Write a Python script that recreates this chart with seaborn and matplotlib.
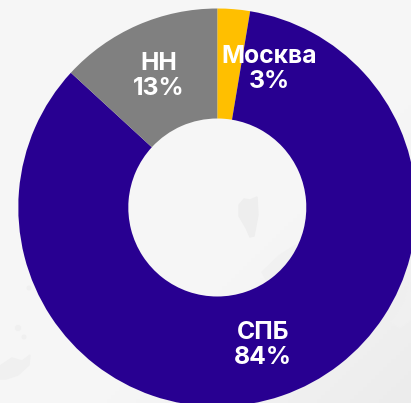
import numpy as np
import matplotlib
matplotlib.use("Agg")
import matplotlib.pyplot as plt
import seaborn as sns

cities = ["Москва", "СПБ", "НН"]
shares = [2.64, 84.2, 13.16]
share_labels = ["3%", "84%", "13%"]
colors = ["#FFBF00", "#280091", "#808080"]

W, H = 411, 403
BG = "#F6F6F6"
sns.set_theme(style="white", rc={"figure.facecolor": BG, "axes.facecolor": BG})
plt.rcParams["font.family"] = ["Inter", "DejaVu Sans"]

fig = plt.figure(figsize=(W / 100, H / 100), dpi=100)
ax = fig.add_axes([0, 0, 1, 1])

# faint map backdrop
yy, xx = np.mgrid[0:1:100j, 0:1:100j]
shade = np.clip((xx + yy - 1.25) / 0.75, 0, 1)
ax.imshow(shade, extent=[0, W, H, 0], cmap=sns.blend_palette([BG, "#ECECEC"], as_cmap=True),
          vmin=0, vmax=1, aspect="auto", zorder=0)
land = "#F0F0F0"
ax.fill([0, 12, 22, 30, 29, 18, 6, 0], [366, 358, 361, 355, 365, 375, 379, 379], color=land, zorder=1)
ax.fill([410, 405, 396, 390, 400, 411], [280, 300, 315, 322, 328, 320], color=land, zorder=1)
ax.fill([239, 244, 250, 257, 258, 254, 250, 246, 239], [205, 199, 200, 197, 215, 236, 237, 228, 216], color="#EEEEEE", zorder=1)
ax.fill([262, 280, 296, 299, 285, 268], [272, 255, 245, 250, 268, 283], color="#F1F1F1", zorder=1)
ax.add_patch(plt.Circle((18, 328), 2.5, color=land, zorder=1))
ax.add_patch(plt.Circle((24, 337), 1.8, color=land, zorder=1))
ax.add_patch(plt.Circle((29, 288), 1.8, color=land, zorder=1))

CX, CY, R, r = 217.3, 207.5, 199.0, 89.0
# the y axis points down, so a rising angle runs clockwise on screen
wedges, _ = ax.pie(
    shares, colors=colors, startangle=-90, counterclock=True, radius=R, center=(CX, CY),
    wedgeprops=dict(width=R - r, linewidth=0), frame=True,
)
for w in wedges:
    w.set_zorder(2)
ax.set_xlim(0, W)
ax.set_ylim(H, 0)
ax.set_aspect("auto")
ax.axis("off")

label_xy = [(269, 69), (263, 345), (159, 76)]
for city, pct, (x, y) in zip(cities, share_labels, label_xy):
    ax.text(x, y, f"{city}\n{pct}", color="white", fontsize=17.8, fontweight="bold",
            ha="center", va="center", linespacing=1.12, zorder=3)

fig.savefig("out.png", dpi=100, facecolor=BG)
